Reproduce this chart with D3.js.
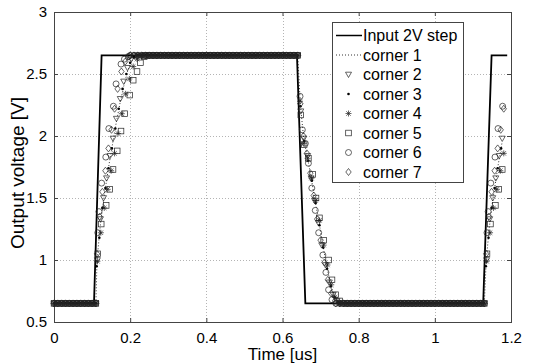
<!DOCTYPE html>
<html>
<head>
<meta charset="utf-8">
<script src="https://cdn.jsdelivr.net/npm/d3@7"></script>
<style>
  body { margin: 0; background: #fff; }
  svg { display: block; font-family: "Liberation Sans", Arial, sans-serif; }
</style>
</head>
<body>
<div id="chart"></div>
<script>
// Input step (time in us, voltage in V)
const inputStep = [[0, 0.65], [0.105, 0.65], [0.125, 2.65], [0.638, 2.65], [0.66, 0.65], [1.127, 0.65], [1.149, 2.65], [1.19, 2.65]];

const lowLevel = 0.65;
const highLevel = 2.65;

// sample times on the flat parts
const lowTimesStart = [0, 0.01, 0.02, 0.03, 0.04, 0.05, 0.06, 0.07, 0.08, 0.09, 0.10, 0.11];
const highTimes = [0.19, 0.20, 0.21, 0.22, 0.23, 0.24, 0.25, 0.26, 0.27, 0.28, 0.29, 0.30, 0.31, 0.32, 0.33, 0.34, 0.35, 0.36, 0.37, 0.38, 0.39, 0.40, 0.41, 0.42, 0.43, 0.44, 0.45, 0.46, 0.47, 0.48, 0.49, 0.50, 0.51, 0.52, 0.53, 0.54, 0.55, 0.56, 0.57, 0.58, 0.59, 0.60, 0.61, 0.62, 0.63, 0.64];
const lowTimesMid = [0.72, 0.73, 0.74, 0.75, 0.76, 0.77, 0.78, 0.79, 0.80, 0.81, 0.82, 0.83, 0.84, 0.85, 0.86, 0.87, 0.88, 0.89, 0.90, 0.91, 0.92, 0.93, 0.94, 0.95, 0.96, 0.97, 0.98, 0.99, 1.00, 1.01, 1.02, 1.03, 1.04, 1.05, 1.06, 1.07, 1.08, 1.09, 1.10, 1.11, 1.12, 1.13];

// transitions for each corner: [time, voltage]
const corner1Rise = [[0.113, 1.00], [0.121, 1.26], [0.129, 1.46], [0.137, 1.62], [0.145, 1.78], [0.154, 1.94], [0.163, 2.10], [0.173, 2.26], [0.183, 2.40], [0.193, 2.52], [0.203, 2.60], [0.213, 2.64]];
const corner1Fall = [[0.647, 2.25], [0.656, 1.97], [0.666, 1.82], [0.676, 1.65], [0.686, 1.47], [0.696, 1.30], [0.706, 1.12], [0.716, 0.95], [0.726, 0.81], [0.736, 0.71], [0.746, 0.66]];
const corner1Rise2 = [[1.135, 1.00], [1.143, 1.26], [1.151, 1.46], [1.159, 1.62], [1.167, 1.78], [1.176, 1.94]];

const corner2Rise = [[0.114, 1.00], [0.122, 1.33], [0.130, 1.50], [0.138, 1.66], [0.147, 1.84], [0.155, 1.98], [0.164, 2.14], [0.174, 2.30], [0.183, 2.44], [0.193, 2.55], [0.203, 2.62]];
const corner2Fall = [[0.648, 2.20], [0.656, 1.98], [0.666, 1.84], [0.675, 1.66], [0.684, 1.48], [0.694, 1.30], [0.703, 1.12], [0.713, 0.96], [0.723, 0.82], [0.733, 0.72], [0.743, 0.67]];
const corner2Rise2 = [[1.136, 1.00], [1.144, 1.33], [1.152, 1.50], [1.160, 1.66], [1.169, 1.84], [1.177, 1.98]];

const corner3Rise = [[0.112, 0.95], [0.119, 1.18], [0.127, 1.42], [0.135, 1.58], [0.143, 1.74], [0.152, 1.90], [0.161, 2.06], [0.170, 2.22], [0.180, 2.38], [0.190, 2.50], [0.200, 2.59], [0.210, 2.64]];
const corner3Fall = [[0.647, 2.24], [0.657, 1.96], [0.667, 1.80], [0.677, 1.64], [0.687, 1.46], [0.697, 1.28], [0.707, 1.10], [0.717, 0.93], [0.727, 0.79], [0.737, 0.70], [0.747, 0.66]];
const corner3Rise2 = [[1.134, 0.95], [1.141, 1.18], [1.149, 1.42], [1.157, 1.58], [1.165, 1.74], [1.174, 1.90]];

const corner4Rise = [[0.114, 0.99], [0.123, 1.22], [0.132, 1.42], [0.141, 1.57], [0.150, 1.72], [0.159, 1.86], [0.168, 2.02], [0.178, 2.18], [0.188, 2.34], [0.198, 2.46], [0.208, 2.56], [0.218, 2.62]];
const corner4Fall = [[0.646, 2.28], [0.656, 1.94], [0.666, 1.82], [0.676, 1.66], [0.687, 1.48], [0.697, 1.32], [0.708, 1.12], [0.718, 0.96], [0.728, 0.80], [0.738, 0.70], [0.748, 0.66]];
const corner4Rise2 = [[1.136, 0.99], [1.145, 1.22], [1.154, 1.42], [1.163, 1.57], [1.172, 1.72], [1.181, 1.86]];

const corner5Rise = [[0.115, 1.05], [0.124, 1.29], [0.137, 1.44], [0.146, 1.57], [0.155, 1.73], [0.166, 1.88], [0.176, 2.04], [0.186, 2.18], [0.199, 2.33], [0.208, 2.45], [0.218, 2.52], [0.227, 2.59], [0.237, 2.64]];
const corner5Fall = [[0.648, 2.17], [0.657, 1.93], [0.668, 1.82], [0.679, 1.69], [0.688, 1.50], [0.697, 1.34], [0.708, 1.16], [0.721, 1.00], [0.730, 0.84], [0.740, 0.72], [0.750, 0.67]];
const corner5Rise2 = [[1.137, 1.05], [1.146, 1.29], [1.159, 1.44], [1.168, 1.57], [1.177, 1.73]];

const corner6Rise = [[0.115, 1.22], [0.118, 1.39], [0.125, 1.62], [0.136, 1.83], [0.144, 2.06], [0.156, 2.24], [0.163, 2.42], [0.176, 2.58], [0.185, 2.62], [0.195, 2.64]];
const corner6Fall = [[0.646, 2.32], [0.652, 2.05], [0.660, 1.94], [0.668, 1.78], [0.677, 1.58], [0.686, 1.40], [0.695, 1.22], [0.706, 1.04], [0.714, 0.90], [0.721, 0.76], [0.730, 0.68]];
const corner6Rise2 = [[1.137, 1.22], [1.140, 1.39], [1.147, 1.62], [1.158, 1.83], [1.166, 2.06], [1.178, 2.24]];

const corner7Rise = [[0.113, 1.05], [0.120, 1.35], [0.127, 1.55], [0.135, 1.72], [0.143, 1.90], [0.151, 2.05], [0.159, 2.22], [0.167, 2.38], [0.177, 2.52], [0.187, 2.60], [0.197, 2.64]];
const corner7Fall = [[0.647, 2.26], [0.655, 2.00], [0.664, 1.86], [0.673, 1.70], [0.682, 1.52], [0.691, 1.33], [0.700, 1.16], [0.710, 0.98], [0.719, 0.84], [0.728, 0.73], [0.738, 0.67]];
const corner7Rise2 = [[1.135, 1.05], [1.142, 1.35], [1.149, 1.55], [1.157, 1.72], [1.165, 1.90], [1.173, 2.05], [1.181, 2.22]];

const xTicks = [0, 0.2, 0.4, 0.6, 0.8, 1, 1.2];
const yTicks = [0.5, 1, 1.5, 2, 2.5, 3];
const legendLabels = ["Input 2V step", "corner 1", "corner 2", "corner 3", "corner 4", "corner 5", "corner 6", "corner 7"];

//Setup Dimensions
const width = 535;
const height = 364;
const margin = { top: 12, right: 24, bottom: 42, left: 54 };
const plotW = width - margin.left - margin.right;
const plotH = height - margin.top - margin.bottom;

function buildCorner(rise, fall, rise2) {
    const pts = [];
    lowTimesStart.filter(t => t < rise[0][0]).forEach(t => pts.push([t, lowLevel]));
    rise.forEach(p => pts.push(p));
    highTimes.filter(t => t > rise[rise.length - 1][0] && t < fall[0][0]).forEach(t => pts.push([t, highLevel]));
    fall.forEach(p => pts.push(p));
    lowTimesMid.filter(t => t > fall[fall.length - 1][0] && t < rise2[0][0]).forEach(t => pts.push([t, lowLevel]));
    rise2.forEach(p => pts.push(p));
    return pts;
}

const corners = [
    { name: "corner 1", marker: "none", pts: buildCorner(corner1Rise, corner1Fall, corner1Rise2) },
    { name: "corner 2", marker: "triangle", pts: buildCorner(corner2Rise, corner2Fall, corner2Rise2) },
    { name: "corner 3", marker: "dot", pts: buildCorner(corner3Rise, corner3Fall, corner3Rise2) },
    { name: "corner 4", marker: "asterisk", pts: buildCorner(corner4Rise, corner4Fall, corner4Rise2) },
    { name: "corner 5", marker: "square", pts: buildCorner(corner5Rise, corner5Fall, corner5Rise2) },
    { name: "corner 6", marker: "circle", pts: buildCorner(corner6Rise, corner6Fall, corner6Rise2) },
    { name: "corner 7", marker: "diamond", pts: buildCorner(corner7Rise, corner7Fall, corner7Rise2) }
];

const svg = d3.select("#chart")
    .append("svg")
    .attr("width", width)
    .attr("height", height);

const g = svg.append("g")
    .attr("transform", `translate(${margin.left},${margin.top})`);

const x = d3.scaleLinear().domain([0, 1.2]).range([0, plotW]);
const y = d3.scaleLinear().domain([0.5, 3]).range([plotH, 0]);

//Grid
g.append("g")
    .selectAll("line")
    .data(xTicks.slice(1, -1))
    .enter().append("line")
    .attr("x1", d => Math.round(x(d)) + 0.5)
    .attr("x2", d => Math.round(x(d)) + 0.5)
    .attr("y1", 0)
    .attr("y2", plotH)
    .attr("stroke", "#b4b4b4")
    .attr("stroke-dasharray", "1,2");
g.append("g")
    .selectAll("line")
    .data(yTicks.slice(1, -1))
    .enter().append("line")
    .attr("y1", d => Math.round(y(d)) + 0.5)
    .attr("y2", d => Math.round(y(d)) + 0.5)
    .attr("x1", 0)
    .attr("x2", plotW)
    .attr("stroke", "#b4b4b4")
    .attr("stroke-dasharray", "1,2");

//Axes (inward ticks on all sides)
const axisStyle = sel => {
    sel.select(".domain").remove();
    sel.selectAll(".tick line").attr("stroke", "#444");
    sel.selectAll(".tick text")
        .attr("fill", "#000")
        .style("font-size", "15px")
        .style("font-family", "'Liberation Sans', Arial, sans-serif");
};
g.append("g")
    .attr("transform", `translate(0,${plotH})`)
    .call(d3.axisBottom(x).tickValues(xTicks).tickFormat(d3.format("")).tickSizeInner(-4).tickPadding(10))
    .call(axisStyle);
g.append("g")
    .call(d3.axisLeft(y).tickValues(yTicks).tickFormat(d3.format("")).tickSizeInner(-4).tickPadding(7))
    .call(axisStyle);
g.append("g")
    .call(d3.axisTop(x).tickValues(xTicks).tickFormat("").tickSizeInner(-4))
    .call(axisStyle);
g.append("g")
    .attr("transform", `translate(${plotW},0)`)
    .call(d3.axisRight(y).tickValues(yTicks).tickFormat("").tickSizeInner(-4))
    .call(axisStyle);

g.append("rect")
    .attr("x", 0.5)
    .attr("y", 0.5)
    .attr("width", plotW)
    .attr("height", plotH)
    .attr("fill", "none")
    .attr("stroke", "#444");

//Input step line
const line = d3.line()
    .x(d => x(d[0]))
    .y(d => y(d[1]));
g.append("path")
    .datum(inputStep)
    .attr("fill", "none")
    .attr("stroke", "#000")
    .attr("stroke-width", 1.8)
    .attr("d", line);

//Marker drawing
function drawMarker(sel, type) {
    if (type === "triangle") {
        sel.append("path").attr("d", "M-3,-2.3L3,-2.3L0,3Z").attr("fill", "none").attr("stroke", "#222").attr("stroke-width", 0.7);
    } else if (type === "dot") {
        sel.append("circle").attr("r", 1.3).attr("fill", "#000");
    } else if (type === "asterisk") {
        sel.append("path").attr("d", "M-3,0L3,0M0,-3L0,3M-2.2,-2.2L2.2,2.2M-2.2,2.2L2.2,-2.2").attr("stroke", "#222").attr("stroke-width", 0.7);
    } else if (type === "square") {
        sel.append("rect").attr("x", -2.8).attr("y", -2.8).attr("width", 5.6).attr("height", 5.6).attr("fill", "none").attr("stroke", "#222").attr("stroke-width", 0.7);
    } else if (type === "circle") {
        sel.append("circle").attr("r", 3).attr("fill", "none").attr("stroke", "#222").attr("stroke-width", 0.7);
    } else if (type === "diamond") {
        sel.append("path").attr("d", "M0,-3.5L2.7,0L0,3.5L-2.7,0Z").attr("fill", "none").attr("stroke", "#222").attr("stroke-width", 0.7);
    }
}

corners.forEach(c => {
    if (c.marker === "none") {
        g.append("path")
            .datum(c.pts)
            .attr("fill", "none")
            .attr("stroke", "#000")
            .attr("stroke-width", 0.8)
            .attr("stroke-dasharray", "1,2")
            .attr("d", line);
    } else {
        g.append("g")
            .selectAll("g")
            .data(c.pts)
            .enter().append("g")
            .attr("transform", d => `translate(${x(d[0])},${y(d[1])})`)
            .each(function () { drawMarker(d3.select(this), c.marker); });
    }
});

//Axis labels
svg.append("text")
    .attr("x", margin.left + plotW / 2)
    .attr("y", 360)
    .attr("text-anchor", "middle")
    .style("font-size", "17px")
    .text("Time [us]");
svg.append("text")
    .attr("transform", `translate(24,${margin.top + plotH / 2 + 6}) rotate(-90)`)
    .attr("text-anchor", "middle")
    .style("font-size", "19px")
    .text("Output voltage [V]");

//Legend
const legend = svg.append("g").attr("transform", "translate(332,22)");
legend.append("rect")
    .attr("x", 0.5)
    .attr("y", 0.5)
    .attr("width", 131)
    .attr("height", 160)
    .attr("fill", "#fff")
    .attr("stroke", "#444");
const markerTypes = ["line", "none", "triangle", "dot", "asterisk", "square", "circle", "diamond"];
legendLabels.forEach((label, i) => {
    const row = legend.append("g").attr("transform", `translate(0,${13.5 + i * 19.5})`);
    if (markerTypes[i] === "line") {
        row.append("line").attr("x1", 4).attr("x2", 30).attr("stroke", "#000").attr("stroke-width", 1.5);
    } else if (markerTypes[i] === "none") {
        row.append("line").attr("x1", 4).attr("x2", 30).attr("stroke", "#000").attr("stroke-width", 0.8).attr("stroke-dasharray", "1,2");
    } else {
        drawMarker(row.append("g").attr("transform", "translate(16.5,0)"), markerTypes[i]);
    }
    row.append("text")
        .attr("x", 31)
        .attr("y", 5.8)
        .style("font-size", "16px")
        .text(label);
});
</script>
</body>
</html>
